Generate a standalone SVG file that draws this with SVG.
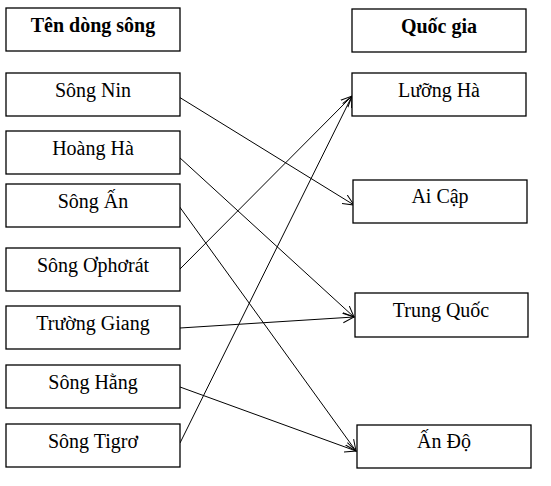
<svg xmlns="http://www.w3.org/2000/svg" width="551" height="486" viewBox="0 0 551 486">
<style>
.b{fill:#fff;stroke:#000;stroke-width:1.3}
.t{font-family:"Liberation Serif","Times New Roman",serif;font-size:20px;text-anchor:middle;fill:#000}
.h{font-weight:bold}
.c{fill:none;stroke:#000;stroke-width:1;marker-end:url(#a)}
</style>
<defs>
<marker id="a" viewBox="0 0 12 12" refX="11" refY="6" markerWidth="12" markerHeight="12" markerUnits="userSpaceOnUse" orient="auto">
<path d="M0,1 L11,6 L0,11" fill="none" stroke="#000" stroke-width="1"/>
</marker>
</defs>
<rect width="551" height="486" fill="#fff"/>
<g id="connectors">
<line class="c" x1="179" y1="97" x2="354" y2="205"/>
<line class="c" x1="179" y1="157" x2="354" y2="317"/>
<line class="c" x1="179" y1="206" x2="356" y2="451"/>
<line class="c" x1="180" y1="269" x2="352" y2="96"/>
<line class="c" x1="180" y1="328" x2="354" y2="317"/>
<line class="c" x1="180" y1="387" x2="356" y2="451"/>
<line class="c" x1="180" y1="443" x2="352" y2="96"/>
</g>
<g id="h-left"><rect class="b" x="6" y="8" width="174" height="43"/><text class="t h" x="93" y="32">Tên dòng sông</text></g>
<g id="nin"><rect class="b" x="6" y="73" width="174" height="43"/><text class="t" x="93" y="97">Sông Nin</text></g>
<g id="hoangha"><rect class="b" x="6" y="131" width="174" height="43"/><text class="t" x="93" y="155">Hoàng Hà</text></g>
<g id="an"><rect class="b" x="6" y="184" width="174" height="43"/><text class="t" x="93" y="208">Sông Ấn</text></g>
<g id="ophorat"><rect class="b" x="6" y="248" width="174" height="43"/><text class="t" x="93" y="272">Sông Ơphơrát</text></g>
<g id="truonggiang"><rect class="b" x="6" y="306" width="174" height="43"/><text class="t" x="93" y="330">Trường Giang</text></g>
<g id="hang"><rect class="b" x="6" y="365" width="174" height="43"/><text class="t" x="93" y="389">Sông Hằng</text></g>
<g id="tigro"><rect class="b" x="6" y="424" width="174" height="43"/><text class="t" x="93" y="448">Sông Tigrơ</text></g>
<g id="h-right"><rect class="b" x="352" y="9" width="174" height="43"/><text class="t h" x="439" y="33">Quốc gia</text></g>
<g id="luongha"><rect class="b" x="352" y="73" width="174" height="43"/><text class="t" x="439" y="97">Lưỡng Hà</text></g>
<g id="aicap"><rect class="b" x="353" y="180" width="174" height="43"/><text class="t" x="440" y="203">Ai Cập</text></g>
<g id="trungquoc"><rect class="b" x="355" y="293" width="173" height="44"/><text class="t" x="441" y="317">Trung Quốc</text></g>
<g id="ando"><rect class="b" x="357" y="425" width="174" height="43"/><text class="t" x="444" y="448">Ấn Độ</text></g>
</svg>
